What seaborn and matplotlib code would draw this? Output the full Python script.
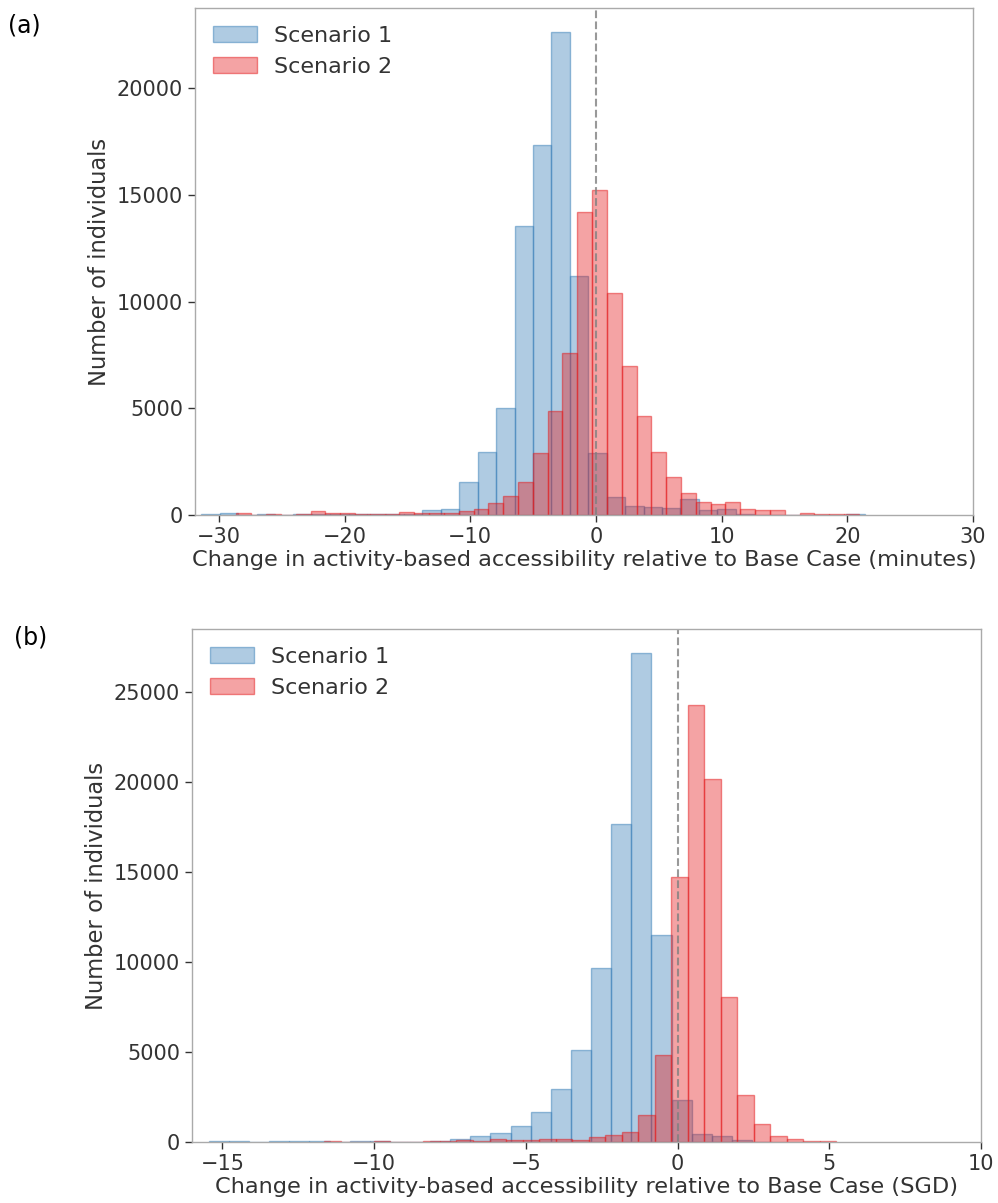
import numpy as np
import pandas as pd
import matplotlib
matplotlib.use("Agg")
import matplotlib.pyplot as plt
import seaborn as sns
from matplotlib.patches import Patch
from matplotlib.colors import to_rgba

# ---- panel (a): minutes ----
# Scenario 1: 36 bins starting at -31.4, width 1.466
a_s1_start, a_s1_width = -31.4, 1.466
a_s1_counts = [45, 90, 20, 50, 0, 60, 40, 40, 50, 30, 40, 60, 220, 270,
               1560, 2970, 5010, 13540, 17370, 22640, 11220, 2900, 830, 420,
               375, 330, 750, 235, 300, 40, 10, 10, 0, 0, 0, 60]
# Scenario 2: 42 bins starting at -28.6, width 1.179
a_s2_start, a_s2_width = -28.6, 1.179
a_s2_counts = [110, 20, 70, 10, 40, 190, 100, 100, 60, 50, 60, 125, 80, 80,
               110, 170, 290, 580, 890, 1550, 2900, 4880, 7590, 14210, 15240,
               10410, 7000, 4650, 2970, 1800, 1050, 610, 520, 600, 290, 235,
               225, 15, 90, 40, 40, 40]

# ---- panel (b): SGD ----
b_s1_start, b_s1_width = -15.446, 0.663
b_s1_counts = [30, 30, 0, 30, 30, 30, 0, 50, 30, 0, 20, 40, 170, 315, 520,
               900, 1650, 2930, 5110, 9650, 17670, 27150, 11500, 2330, 440,
               330, 90, 20]
b_s2_start, b_s2_width = -11.64, 0.5444
b_s2_counts = [40, 0, 0, 40, 0, 0, 30, 60, 90, 60, 170, 90, 130, 185, 170,
               130, 260, 370, 570, 1500, 4830, 14700, 24260, 20150, 8040,
               2590, 1010, 350, 140, 80, 30]

labels = ['Scenario 1', 'Scenario 2']
xlabels = ['Change in activity-based accessibility relative to Base Case (minutes)',
           'Change in activity-based accessibility relative to Base Case (SGD)']

sns.set_theme(style="ticks")
plt.rcParams['font.family'] = ['DejaVu Sans']
text_color = '#333333'
plt.rcParams.update({'text.color': text_color, 'axes.labelcolor': text_color,
                     'xtick.color': text_color, 'ytick.color': text_color})

set1 = sns.color_palette("Set1", 2)
colors = [set1[1], set1[0]]  # blue for scenario 1, red for scenario 2


def hist_frame(start, width, counts, label):
    n = len(counts)
    centers = start + width * (np.arange(n) + 0.5)
    return pd.DataFrame({'value': centers, 'count': counts, 'scenario': label})


def draw_panel(ax, series, xlim, xticks, yticks, xlabel):
    for (start, width, counts), label, color in zip(series, labels, colors):
        df = hist_frame(start, width, counts, label)
        n = len(counts)
        sns.histplot(data=df, x='value', weights='count', bins=n,
                     binrange=(start, start + n * width), color=color,
                     alpha=0.4, edgecolor=to_rgba(color, 0.5), linewidth=1, ax=ax)
    ax.axvline(0, color='grey', linestyle='--', linewidth=1.5, alpha=0.8)
    ax.set_xlim(*xlim)
    ax.set_xticks(xticks)
    ax.set_yticks(yticks)
    ax.set_xlabel(xlabel, fontsize=16.2, labelpad=2)
    ax.set_ylabel('Number of individuals', fontsize=16.3)
    ax.tick_params(labelsize=15, length=5, width=1)
    for sp in ax.spines.values():
        sp.set_visible(True)
        sp.set_color('#aaaaaa')
        sp.set_linewidth(1)
    handles = [Patch(facecolor=to_rgba(c, 0.4), edgecolor=to_rgba(c, 0.5), linewidth=1)
               for c in colors]
    ax.legend(handles, labels, loc='upper left', frameon=False, fontsize=16,
              handlelength=2.0, handletextpad=0.75, borderaxespad=0.4)


fig = plt.figure(figsize=(9.98, 12.03), dpi=100)
W, H = 998, 1203
ax1 = fig.add_axes([195 / W, 1 - 515 / H, (973 - 195) / W, (515 - 8) / H])
ax2 = fig.add_axes([192 / W, 1 - 1142 / H, (981 - 192) / W, (1142 - 629) / H])

draw_panel(ax1, [(a_s1_start, a_s1_width, a_s1_counts), (a_s2_start, a_s2_width, a_s2_counts)],
           (-31.9, 30), [-30, -20, -10, 0, 10, 20, 30], [0, 5000, 10000, 15000, 20000], xlabels[0])
draw_panel(ax2, [(b_s1_start, b_s1_width, b_s1_counts), (b_s2_start, b_s2_width, b_s2_counts)],
           (-16, 10), [-15, -10, -5, 0, 5, 10], [0, 5000, 10000, 15000, 20000, 25000], xlabels[1])

fig.text(8 / W, 1 - 26 / H, '(a)', fontsize=17, color='black', va='center')
fig.text(14 / W, 1 - 638 / H, '(b)', fontsize=17, color='black', va='center')

fig.savefig('out.png', dpi=100)
